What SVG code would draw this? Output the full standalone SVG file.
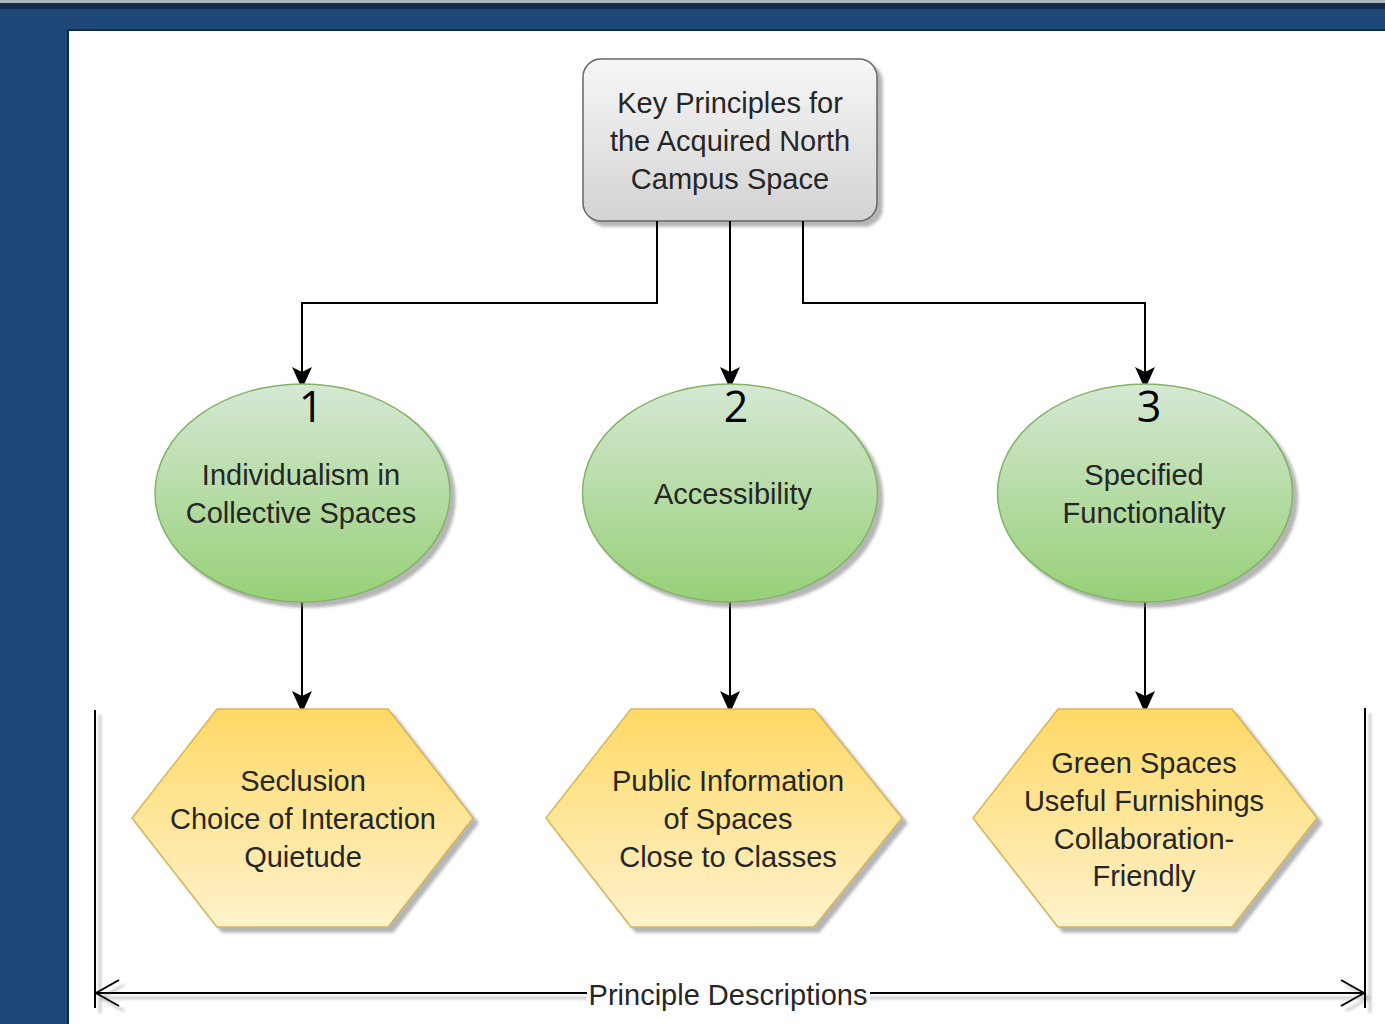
<svg xmlns="http://www.w3.org/2000/svg" width="1385" height="1024" viewBox="0 0 1385 1024">
  <defs>
    <linearGradient id="gRoot" x1="0" y1="0" x2="0" y2="1">
      <stop offset="0" stop-color="#f7f7f7"/>
      <stop offset="1" stop-color="#d3d3d3"/>
    </linearGradient>
    <linearGradient id="gGreen" x1="0" y1="0" x2="0" y2="1">
      <stop offset="0" stop-color="#d5e8d4"/>
      <stop offset="1" stop-color="#97d077"/>
    </linearGradient>
    <linearGradient id="gYellow" x1="0" y1="0" x2="0" y2="1">
      <stop offset="0" stop-color="#ffd966"/>
      <stop offset="1" stop-color="#fff2cc"/>
    </linearGradient>
    <filter id="shadow" x="-10%" y="-10%" width="125%" height="125%">
      <feGaussianBlur in="SourceAlpha" stdDeviation="1.5"/>
      <feOffset dx="5" dy="5" result="off"/>
      <feFlood flood-color="#7a7a7a" flood-opacity="0.55"/>
      <feComposite in2="off" operator="in"/>
      <feMerge>
        <feMergeNode/>
        <feMergeNode in="SourceGraphic"/>
      </feMerge>
    </filter>
    <marker id="arrow" markerUnits="userSpaceOnUse" viewBox="0 0 22 20" refX="17" refY="10" markerWidth="22" markerHeight="20" orient="auto">
      <path d="M0,0 L22,10 L0,20 L5,10 Z" fill="#000"/>
    </marker>
    <marker id="open" markerUnits="userSpaceOnUse" viewBox="-26 -16 30 32" refX="0" refY="0" markerWidth="30" markerHeight="32" orient="auto-start-reverse">
      <path d="M-23,-13 L0,0 L-23,13" fill="none" stroke="#000" stroke-width="2"/>
    </marker>
  </defs>
  <style>
    .lbl { font-family: "Liberation Sans", Arial, sans-serif; font-size: 29px; fill: #262626; text-anchor: middle; }
    .num { font-family: "Open Sans", Roboto, sans-serif; font-size: 43px; fill: #000; text-anchor: middle; }
    .root { fill: url(#gRoot); stroke: #666; stroke-width: 1.5; }
    .ell { fill: url(#gGreen); stroke: #82b366; stroke-width: 1.5; }
    .hex { fill: url(#gYellow); stroke: #d6b656; stroke-width: 1.5; }
    .conn { fill: none; stroke: #000; stroke-width: 2; }
    .dim { fill: none; stroke: #000; stroke-width: 2; }
  </style>

  <!-- window frame -->
  <rect x="0" y="0" width="1385" height="1024" fill="#1f4778"/>
  <rect x="0" y="0" width="1385" height="3" fill="#aeb4bb"/>
  <rect x="0" y="3" width="1385" height="6" fill="#13284a"/>
  <rect x="67" y="29" width="1318" height="995" fill="#102a4c"/>
  <rect x="69" y="31" width="1316" height="993" fill="#ffffff"/>

  <!-- root node -->
  <g id="root">
    <rect class="root" x="583" y="59" width="294" height="162" rx="18" filter="url(#shadow)"/>
    <text class="lbl" x="730" y="113">Key Principles for</text>
    <text class="lbl" x="730" y="151">the Acquired North</text>
    <text class="lbl" x="730" y="189">Campus Space</text>
  </g>

  <!-- connectors -->
  <g id="connectors">
    <path class="conn" d="M657,221 V303 H302 V384" marker-end="url(#arrow)"/>
    <path class="conn" d="M730,221 V384" marker-end="url(#arrow)"/>
    <path class="conn" d="M803,221 V303 H1145 V384" marker-end="url(#arrow)"/>
    <path class="conn" d="M302,602 V708" marker-end="url(#arrow)"/>
    <path class="conn" d="M730,602 V708" marker-end="url(#arrow)"/>
    <path class="conn" d="M1145,602 V708" marker-end="url(#arrow)"/>
  </g>

  <!-- principles -->
  <g id="principle1">
    <ellipse class="ell" cx="302.5" cy="493" rx="147.5" ry="109" filter="url(#shadow)"/>
    <text class="num" x="311" y="422">1</text>
    <text class="lbl" x="301" y="485">Individualism in</text>
    <text class="lbl" x="301" y="523">Collective Spaces</text>
  </g>
  <g id="principle2">
    <ellipse class="ell" cx="730" cy="493" rx="147.5" ry="109" filter="url(#shadow)"/>
    <text class="num" x="736" y="422">2</text>
    <text class="lbl" x="733" y="504">Accessibility</text>
  </g>
  <g id="principle3">
    <ellipse class="ell" cx="1145" cy="493" rx="147.5" ry="109" filter="url(#shadow)"/>
    <text class="num" x="1149" y="422">3</text>
    <text class="lbl" x="1144" y="485">Specified</text>
    <text class="lbl" x="1144" y="523">Functionality</text>
  </g>

  <!-- descriptions -->
  <g id="desc1">
    <polygon class="hex" points="217,709 388,709 473,818 388,927 217,927 132,818" filter="url(#shadow)"/>
    <text class="lbl" x="303" y="791">Seclusion</text>
    <text class="lbl" x="303" y="829">Choice of Interaction</text>
    <text class="lbl" x="303" y="867">Quietude</text>
  </g>
  <g id="desc2">
    <polygon class="hex" points="631,709 814,709 902,818 814,927 631,927 546,818" filter="url(#shadow)"/>
    <text class="lbl" x="728" y="791">Public Information</text>
    <text class="lbl" x="728" y="829">of Spaces</text>
    <text class="lbl" x="728" y="867">Close to Classes</text>
  </g>
  <g id="desc3">
    <polygon class="hex" points="1058,709 1232,709 1317,818 1232,927 1058,927 973,818" filter="url(#shadow)"/>
    <text class="lbl" x="1144" y="773">Green Spaces</text>
    <text class="lbl" x="1144" y="811">Useful Furnishings</text>
    <text class="lbl" x="1144" y="849">Collaboration-</text>
    <text class="lbl" x="1144" y="886">Friendly</text>
  </g>

  <!-- dimension bracket -->
  <g id="dimension">
    <g filter="url(#shadow)">
      <path class="dim" d="M95,710 V1008"/>
      <path class="dim" d="M1365,708 V1008"/>
      <path class="dim" d="M96,993 H1364" marker-start="url(#open)" marker-end="url(#open)"/>
    </g>
    <rect x="587" y="978" width="283" height="34" fill="#ffffff"/>
    <text class="lbl" x="728" y="1005">Principle Descriptions</text>
  </g>
</svg>
